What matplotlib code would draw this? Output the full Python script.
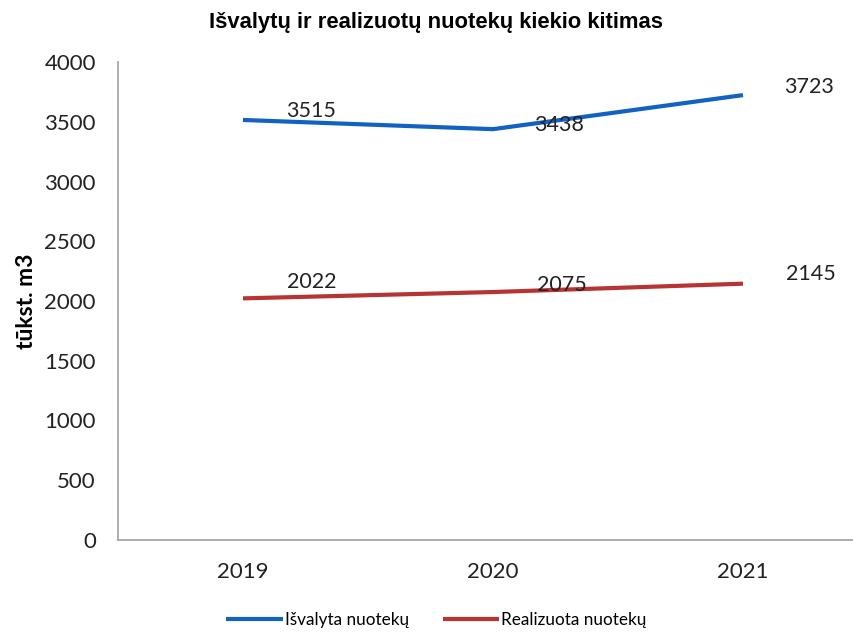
import matplotlib.pyplot as plt

years = ["2019", "2020", "2021"]
isvalyta = [3515, 3438, 3723]
realizuota = [2022, 2075, 2145]

# label offsets in pixels (labels sit to the right of each point)
isv_off = [(68, 9), (66, 4), (66, 8)]
real_off = [(69, 16), (69, 7), (68, 10)]

fig = plt.figure(figsize=(8.54, 6.33), dpi=100)
ax = fig.add_axes([118 / 854, 93 / 633, 750 / 854, 478 / 633])

x = range(len(years))
ax.plot(x, isvalyta, color="#1262c4", lw=3.0, solid_capstyle="butt", label="Išvalyta nuotekų")
ax.plot(x, realizuota, color="#b83434", lw=3.0, solid_capstyle="butt", label="Realizuota nuotekų")

for i, v in enumerate(isvalyta):
    ax.annotate(str(v), (i, v), xytext=isv_off[i], textcoords="offset pixels",
                ha="center", va="center", fontsize=15.5, family="Lato", color="#222222")
for i, v in enumerate(realizuota):
    ax.annotate(str(v), (i, v), xytext=real_off[i], textcoords="offset pixels",
                ha="center", va="center", fontsize=15.5, family="Lato", color="#222222")

ax.set_xlim(-0.5, 2.5)
ax.set_ylim(0, 4000)
ax.set_yticks(range(0, 4001, 500))
ax.set_xticks(list(x))
ax.set_xticklabels(years)
ax.tick_params(length=0, labelsize=16, colors="#222222")
ax.tick_params(axis="y", pad=16)
ax.tick_params(axis="x", pad=16)
for lab in ax.get_xticklabels() + ax.get_yticklabels():
    lab.set_family("Lato")

for s in ["top", "right"]:
    ax.spines[s].set_visible(False)
for s in ["left", "bottom"]:
    ax.spines[s].set_color("#a0a0a0")
    ax.spines[s].set_linewidth(1.2)

ax.set_ylabel("tūkst. m3", fontsize=16.5, fontweight="bold", family="Lato", labelpad=5)

fig.text(0.511, 0.965, "Išvalytų ir realizuotų nuotekų kiekio kitimas", ha="center", va="center",
         fontsize=15.8, fontweight="bold", family="Liberation Sans")

fig.legend(loc="center", bbox_to_anchor=(0.511, 0.02), ncol=2, frameon=False,
           prop={"family": "Lato", "size": 12.3}, handlelength=3.3, handletextpad=0.1,
           columnspacing=2.0)

fig.savefig("out.png", dpi=100)
